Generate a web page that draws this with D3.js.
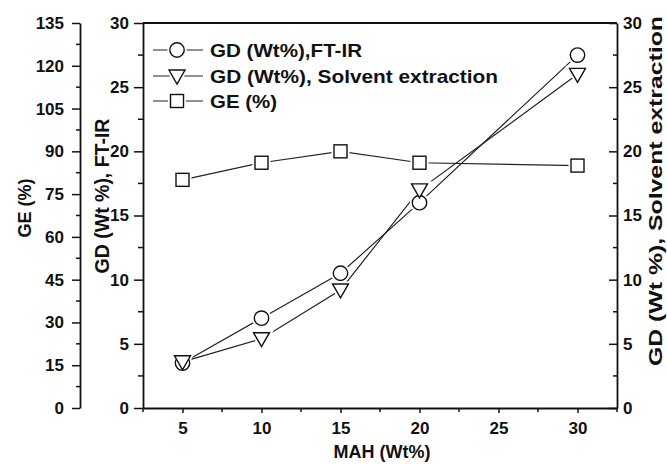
<!DOCTYPE html>
<html><head><meta charset="utf-8">
<script src="https://cdn.jsdelivr.net/npm/d3@7"></script>
<style>body{margin:0;background:#fff}svg{display:block}text{font-family:"Liberation Sans",Arial,sans-serif;font-weight:bold;fill:#111}</style>
</head><body><svg id="c" width="667" height="464"></svg>
<script>
const mah = [5, 10, 15, 20, 30];
const gdFTIR = [3.5, 7.0, 10.5, 16.0, 27.5];
const gdSolvent = [3.6, 5.4, 9.2, 17.0, 26.0];
const ge = [80.0, 86.0, 90.0, 86.0, 85.0];
const xTicks = [5, 10, 15, 20, 25, 30];
const gdTicks = [0, 5, 10, 15, 20, 25, 30];
const geTicks = [0, 15, 30, 45, 60, 75, 90, 105, 120, 135];
const legendLabels = ["GD (Wt%),FT-IR", "GD (Wt%), Solvent extraction", "GE (%)"];

const svg = d3.select("#c");
const L = 143, R = 617, T = 23, B = 408, GEX = 80;
const x = d3.scaleLinear().domain([2.5, 32.5]).range([L, R]);
const y = d3.scaleLinear().domain([0, 30]).range([B, T]);
const yGE = d3.scaleLinear().domain([0, 135]).range([B, T]);
const ink = "#111";
const FS = 17;

svg.append("line").attr("x1", L).attr("x2", R).attr("y1", T).attr("y2", T).attr("stroke", ink).attr("stroke-width", 1.8);

function styleAxis(g, fs) {
  g.selectAll("path.domain").attr("stroke", ink).attr("stroke-width", 1.8);
  g.selectAll(".tick line").attr("stroke", ink).attr("stroke-width", 1.5);
  g.selectAll(".tick text").style("font-size", fs + "px").attr("fill", ink);
}
function minor(g, vals, scale, orient, len) {
  vals.forEach(v => {
    if (orient === "left") g.append("line").attr("x1", 0).attr("x2", -len).attr("y1", scale(v)).attr("y2", scale(v));
    if (orient === "right") g.append("line").attr("x1", 0).attr("x2", len).attr("y1", scale(v)).attr("y2", scale(v));
    if (orient === "bottom") g.append("line").attr("y1", 0).attr("y2", len).attr("x1", scale(v)).attr("x2", scale(v));
  });
  g.selectAll(":scope > line").attr("stroke", ink).attr("stroke-width", 1.5);
}

const gx = svg.append("g").attr("transform", `translate(0,${B})`)
  .call(d3.axisBottom(x).tickValues(xTicks).tickSize(5).tickPadding(9).tickSizeOuter(0));
styleAxis(gx, FS);
minor(gx, [2.5, 7.5, 12.5, 17.5, 22.5, 27.5, 32.5], x, "bottom", 4);

const gl = svg.append("g").attr("transform", `translate(${L},0)`)
  .call(d3.axisLeft(y).tickValues(gdTicks).tickSize(9).tickPadding(5).tickSizeOuter(0));
styleAxis(gl, FS);
minor(gl, [2.5, 7.5, 12.5, 17.5, 22.5, 27.5], y, "left", 5);

const gr = svg.append("g").attr("transform", `translate(${R},0)`)
  .call(d3.axisRight(y).tickValues(gdTicks).tickSize(-8).tickPadding(6).tickSizeOuter(0));
styleAxis(gr, FS);
minor(gr, [2.5, 7.5, 12.5, 17.5, 22.5, 27.5], y, "right", -4);

const gg = svg.append("g").attr("transform", `translate(${GEX},0)`)
  .call(d3.axisLeft(yGE).tickValues(geTicks).tickSize(8).tickPadding(8).tickSizeOuter(0));
styleAxis(gg, FS);
minor(gg, [7.5, 22.5, 37.5, 52.5, 67.5, 82.5, 97.5, 112.5, 127.5], yGE, "left", 4);

svg.append("text").attr("transform", "translate(31,208) rotate(-90)").attr("text-anchor", "middle").style("font-size", "18px").text("GE (%)");
svg.append("text").attr("transform", "translate(109,196) rotate(-90)").attr("text-anchor", "middle").style("font-size", "19.5px").text("GD (Wt %), FT-IR");
svg.append("text").attr("transform", "translate(662,191) rotate(-90)").attr("text-anchor", "middle").style("font-size", "19px")
  .attr("textLength", 350).attr("lengthAdjust", "spacingAndGlyphs").text("GD (Wt %), Solvent extraction");
svg.append("text").attr("x", 382).attr("y", 458).attr("text-anchor", "middle").style("font-size", "18px").text("MAH (Wt%)");

const pts = (ys, sc) => mah.map((m, i) => [x(m), sc(ys[i])]);
const series = [
  {p: pts(gdFTIR, y), shape: "circle"},
  {p: pts(gdSolvent, y), shape: "tri"},
  {p: pts(ge, yGE), shape: "square"}
];
const lineColor = "#222";
function drawMarker(g, shape, cx, cy) {
  if (shape === "circle") return g.append("circle").attr("cx", cx).attr("cy", cy).attr("r", 7.2);
  if (shape === "tri") return g.append("path").attr("d", `M${cx-8},${cy-6}L${cx+8},${cy-6}L${cx},${cy+8}Z`);
  return g.append("rect").attr("x", cx-6.5).attr("y", cy-6.5).attr("width", 13).attr("height", 13);
}
series.forEach(s => {
  svg.append("path").attr("d", d3.line()(s.p)).attr("fill", "none").attr("stroke", lineColor).attr("stroke-width", 1.2);
});
series.forEach(s => {
  s.p.forEach(([cx, cy]) => {
    drawMarker(svg, s.shape, cx, cy).attr("fill", "#fff").attr("stroke", "#fff").attr("stroke-width", 5);
  });
});
series.forEach(s => {
  s.p.forEach(([cx, cy]) => {
    drawMarker(svg, s.shape, cx, cy).attr("fill", "#fff").attr("stroke", ink).attr("stroke-width", 1.4);
  });
});

const ly = [50, 76, 101];
const legendWidths = [152, 288, 67];
legendLabels.forEach((lab, i) => {
  const g = svg.append("g");
  g.append("line").attr("x1", 153).attr("x2", 203).attr("y1", ly[i]).attr("y2", ly[i]).attr("stroke", lineColor).attr("stroke-width", 1.2);
  drawMarker(g, series[i].shape, 177, ly[i]).attr("fill", "#fff").attr("stroke", "#fff").attr("stroke-width", 5);
  drawMarker(g, series[i].shape, 177, ly[i]).attr("fill", "#fff").attr("stroke", ink).attr("stroke-width", 1.4);
  g.append("text").attr("x", 210).attr("y", ly[i] + 7).style("font-size", "19px")
    .attr("textLength", legendWidths[i]).attr("lengthAdjust", "spacingAndGlyphs").text(lab);
});
</script></body></html>
